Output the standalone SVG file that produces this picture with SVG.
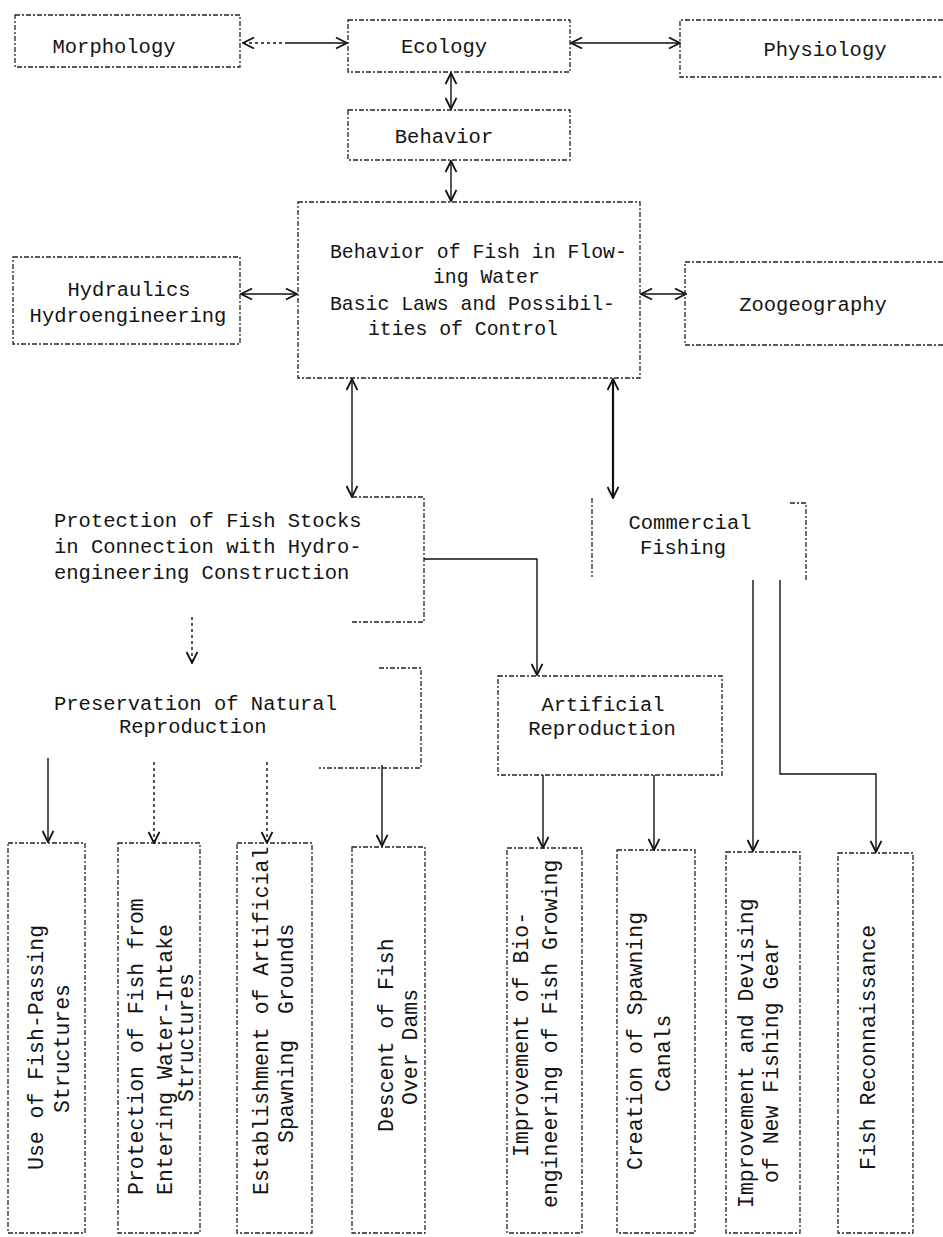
<svg xmlns="http://www.w3.org/2000/svg" width="943" height="1237" viewBox="0 0 943 1237">
<style>
  text { font-family: "Liberation Mono", "Courier New", monospace; font-size: 20.5px; fill: #141414; }
  .main { font-size: 19.8px; }
  .rot { font-size: 21.5px; }
  .box { fill: none; stroke: #222; stroke-width: 1.3; stroke-dasharray: 5 2 2 2; }
  .con { fill: none; stroke: #111; stroke-width: 1.4; }
  .dot { stroke-dasharray: 3 3; }
  .bold { stroke-width: 2.2; }
</style>
<defs>
  <marker id="ah" viewBox="0 0 10 10" refX="9.5" refY="5" markerWidth="13" markerHeight="13" markerUnits="userSpaceOnUse" orient="auto-start-reverse">
    <path d="M1,0.8 L9.5,5 L1,9.2" fill="none" stroke="#111" stroke-width="1.4"/>
  </marker>
</defs>
<rect width="943" height="1237" fill="#fff"/>

<g id="connectors">
  <path class="con dot" d="M243,43 H285" marker-start="url(#ah)"/>
  <path class="con" d="M285,43 H347" marker-end="url(#ah)"/>
  <path class="con" d="M571,43 H680" marker-start="url(#ah)" marker-end="url(#ah)"/>
  <path class="con" d="M451,73 V109" marker-start="url(#ah)" marker-end="url(#ah)"/>
  <path class="con" d="M451,161 V201" marker-start="url(#ah)" marker-end="url(#ah)"/>
  <path class="con" d="M241,294 H297" marker-start="url(#ah)" marker-end="url(#ah)"/>
  <path class="con" d="M641,294 H686" marker-start="url(#ah)" marker-end="url(#ah)"/>
  <path class="con" d="M352,379 V497" marker-start="url(#ah)" marker-end="url(#ah)"/>
  <path class="con bold" d="M613,379 V498" marker-start="url(#ah)" marker-end="url(#ah)"/>
  <path class="con" d="M424,559 H537 V675" marker-end="url(#ah)"/>
  <path class="con dot" d="M192,617 V663" marker-end="url(#ah)"/>
  <path class="con" d="M48,758 V842" marker-end="url(#ah)"/>
  <path class="con dot" d="M154,762 V843" marker-end="url(#ah)"/>
  <path class="con dot" d="M267,762 V843" marker-end="url(#ah)"/>
  <path class="con" d="M382,765 V846" marker-end="url(#ah)"/>
  <path class="con" d="M543,775 V848" marker-end="url(#ah)"/>
  <path class="con" d="M654,775 V850" marker-end="url(#ah)"/>
  <path class="con" d="M753,580 V851" marker-end="url(#ah)"/>
  <path class="con" d="M780,580 V774 H876 V852" marker-end="url(#ah)"/>
</g>

<g id="morphology">
  <rect class="box" x="15" y="15" width="225" height="52"/>
  <text x="114" y="53" text-anchor="middle">Morphology</text>
</g>
<g id="ecology">
  <rect class="box" x="348" y="20" width="222" height="52"/>
  <text x="444" y="53" text-anchor="middle">Ecology</text>
</g>
<g id="physiology">
  <path class="box" d="M943,20 H680 V77 H943"/>
  <text x="825" y="56" text-anchor="middle">Physiology</text>
</g>
<g id="behavior">
  <rect class="box" x="348" y="110" width="222" height="50"/>
  <text x="444" y="143" text-anchor="middle">Behavior</text>
</g>
<g id="main">
  <rect class="box" x="298" y="202" width="342" height="176"/>
  <text class="main" x="330" y="258">Behavior of Fish in Flow-</text>
  <text class="main" x="433" y="283">ing Water</text>
  <text class="main" x="330" y="310">Basic Laws and Possibil-</text>
  <text class="main" x="368" y="335">ities of Control</text>
</g>
<g id="hydraulics">
  <rect class="box" x="13" y="257" width="227" height="87"/>
  <text x="129" y="296" text-anchor="middle">Hydraulics</text>
  <text x="128" y="322" text-anchor="middle">Hydroengineering</text>
</g>
<g id="zoogeography">
  <path class="box" d="M943,262 H685 V345 H943"/>
  <text x="813" y="311" text-anchor="middle">Zoogeography</text>
</g>
<g id="protection">
  <path class="box" d="M352,497 H424 V622 H352"/>
  <text x="54" y="527">Protection of Fish Stocks</text>
  <text x="54" y="553">in Connection with Hydro-</text>
  <text x="54" y="579">engineering Construction</text>
</g>
<g id="commercial">
  <path class="box" d="M592,498 V577 M790,503 H806 V580"/>
  <text x="690" y="529" text-anchor="middle">Commercial</text>
  <text x="683" y="554" text-anchor="middle">Fishing</text>
</g>
<g id="preservation">
  <path class="box" d="M379,668 H421 V768 H319"/>
  <text x="54" y="710">Preservation of Natural</text>
  <text x="119" y="733">Reproduction</text>
</g>
<g id="artificial">
  <rect class="box" x="498" y="676" width="224" height="99"/>
  <text x="603" y="711" text-anchor="middle">Artificial</text>
  <text x="602" y="735" text-anchor="middle">Reproduction</text>
</g>

<g id="b1">
  <rect class="box" x="8" y="843" width="77" height="390"/>
  <text class="rot" transform="translate(43,1170) rotate(-90)">Use of Fish-Passing</text>
  <text class="rot" transform="translate(69,1113) rotate(-90)">Structures</text>
</g>
<g id="b2">
  <rect class="box" x="118" y="843" width="82" height="390"/>
  <text class="rot" transform="translate(143,1195) rotate(-90)">Protection of Fish from</text>
  <text class="rot" transform="translate(172,1195) rotate(-90)">Entering Water-Intake</text>
  <text class="rot" transform="translate(193,1102) rotate(-90)">Structures</text>
</g>
<g id="b3">
  <rect class="box" x="237" y="843" width="75" height="390"/>
  <text class="rot" transform="translate(268,1195) rotate(-90)">Establishment of Artificial</text>
  <text class="rot" xml:space="preserve" transform="translate(293,1143) rotate(-90)">Spawning  Grounds</text>
</g>
<g id="b4">
  <rect class="box" x="352" y="847" width="73" height="386"/>
  <text class="rot" transform="translate(393,1132) rotate(-90)">Descent of Fish</text>
  <text class="rot" transform="translate(417,1105) rotate(-90)">Over Dams</text>
</g>
<g id="b5">
  <rect class="box" x="507" y="848" width="75" height="385"/>
  <text class="rot" transform="translate(528,1157) rotate(-90)">Improvement of Bio-</text>
  <text class="rot" transform="translate(557,1208) rotate(-90)">engineering of Fish Growing</text>
</g>
<g id="b6">
  <rect class="box" x="617" y="850" width="78" height="383"/>
  <text class="rot" transform="translate(642,1170) rotate(-90)">Creation of Spawning</text>
  <text class="rot" transform="translate(670,1092) rotate(-90)">Canals</text>
</g>
<g id="b7">
  <rect class="box" x="726" y="852" width="74" height="381"/>
  <text class="rot" transform="translate(753,1208) rotate(-90)">Improvement and Devising</text>
  <text class="rot" transform="translate(778,1183) rotate(-90)">of New Fishing Gear</text>
</g>
<g id="b8">
  <rect class="box" x="838" y="853" width="75" height="380"/>
  <text class="rot" transform="translate(875,1170) rotate(-90)">Fish Reconnaissance</text>
</g>
</svg>
